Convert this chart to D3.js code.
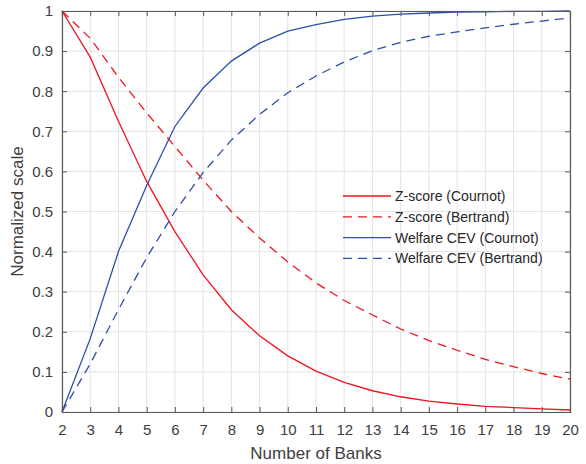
<!DOCTYPE html>
<html>
<head>
<meta charset="utf-8">
<script src="https://cdn.jsdelivr.net/npm/d3@7"></script>
<style>
  body { margin: 0; background: #fff; }
  svg { font-family: "Liberation Sans", Arial, sans-serif; }
</style>
</head>
<body>
<svg id="chart" width="586" height="464"></svg>
<script>
const banks = d3.range(2, 21);
const zCournot = [1, 0.885, 0.725, 0.575, 0.45, 0.342, 0.255, 0.19, 0.14, 0.102, 0.074, 0.053, 0.038, 0.027, 0.02, 0.014, 0.011, 0.008, 0.005];
const zBertrand = [1, 0.932, 0.835, 0.746, 0.662, 0.578, 0.5, 0.434, 0.374, 0.322, 0.278, 0.242, 0.207, 0.178, 0.154, 0.131, 0.113, 0.096, 0.082];
const wCournot = [0, 0.183, 0.4, 0.565, 0.712, 0.808, 0.875, 0.92, 0.95, 0.966, 0.979, 0.987, 0.992, 0.995, 0.997, 0.998, 0.999, 0.999, 1];
const wBertrand = [0, 0.12, 0.255, 0.385, 0.5, 0.597, 0.678, 0.742, 0.796, 0.838, 0.873, 0.901, 0.922, 0.937, 0.948, 0.958, 0.967, 0.975, 0.983];
const yTicks = d3.range(0, 1.01, 0.1);

const series = [
  { name: 'Z-score (Cournot)', values: zCournot, color: '#f0141e', dash: null },
  { name: 'Z-score (Bertrand)', values: zBertrand, color: '#f0141e', dash: '9,6' },
  { name: 'Welfare CEV (Cournot)', values: wCournot, color: '#2f4fa6', dash: null },
  { name: 'Welfare CEV (Bertrand)', values: wBertrand, color: '#2f4fa6', dash: '9,6' }
];

const svg = d3.select('#chart');
const margin = { top: 11, right: 16, bottom: 52, left: 62 };
const width = svg.attr('width') - margin.left - margin.right;
const height = svg.attr('height') - margin.top - margin.bottom;

const g = svg.append('g')
  .attr('transform', `translate(${margin.left},${margin.top})`);

const x = d3.scaleLinear().domain([2, 20]).range([0, width]);
const y = d3.scaleLinear().domain([0, 1]).range([height, 0]);

// grid
g.append('g')
  .selectAll('line')
  .data(banks)
  .enter().append('line')
    .attr('x1', d => x(d)).attr('x2', d => x(d))
    .attr('y1', 0).attr('y2', height)
    .attr('stroke', '#e3e3e3');
g.append('g')
  .selectAll('line')
  .data(yTicks)
  .enter().append('line')
    .attr('y1', d => y(d)).attr('y2', d => y(d))
    .attr('x1', 0).attr('x2', width)
    .attr('stroke', '#e3e3e3');

// series
const line = d3.line()
  .x((d, i) => x(banks[i]))
  .y(d => y(d));

series.forEach(s => {
  g.append('path')
    .datum(s.values)
    .attr('fill', 'none')
    .attr('stroke', s.color)
    .attr('stroke-width', 1.3)
    .attr('stroke-dasharray', s.dash)
    .attr('d', line);
});

// axes (box style, ticks inward)
const axisColor = '#5a5a5a';
const tickLen = 5;

const xAxis = g.append('g')
  .attr('transform', `translate(0,${height})`)
  .call(d3.axisBottom(x).tickValues(banks).tickFormat(d3.format('d')).tickSize(-tickLen).tickPadding(10));
const xTop = g.append('g')
  .call(d3.axisTop(x).tickValues(banks).tickFormat('').tickSize(-tickLen));
const yAxis = g.append('g')
  .call(d3.axisLeft(y).tickValues(yTicks).tickFormat(d => d3.format('.1~f')(d)).tickSize(-tickLen).tickPadding(9));
const yRight = g.append('g')
  .attr('transform', `translate(${width},0)`)
  .call(d3.axisRight(y).tickValues(yTicks).tickFormat('').tickSize(-tickLen));

[xAxis, xTop, yAxis, yRight].forEach(a => {
  a.select('.domain').attr('stroke', axisColor).attr('stroke-width', 1.2);
  a.selectAll('.tick line').attr('stroke', axisColor);
  a.selectAll('.tick text').attr('fill', '#404040').style('font-size', '15px');
});
xAxis.selectAll('.tick text').attr('dy', '0.85em');

// axis titles
svg.append('text')
  .attr('x', margin.left + width / 2)
  .attr('y', 459)
  .attr('text-anchor', 'middle')
  .attr('fill', '#404040')
  .style('font-size', '17px')
  .text('Number of Banks');

svg.append('text')
  .attr('transform', `translate(23,${margin.top + height / 2})rotate(-90)`)
  .attr('text-anchor', 'middle')
  .attr('fill', '#404040')
  .style('font-size', '17px')
  .text('Normalized scale');

// legend
const legend = g.append('g')
  .attr('transform', `translate(${343 - margin.left},${196 - margin.top})`);

series.forEach((s, i) => {
  const row = legend.append('g').attr('transform', `translate(0,${i * 20.8})`);
  row.append('line')
    .attr('x1', 0).attr('x2', 48)
    .attr('stroke', s.color)
    .attr('stroke-width', 1.3)
    .attr('stroke-dasharray', s.dash);
  row.append('text')
    .attr('x', 52)
    .attr('dy', '0.35em')
    .attr('fill', '#262626')
    .style('font-size', '14px')
    .text(s.name);
});
</script>
</body>
</html>
